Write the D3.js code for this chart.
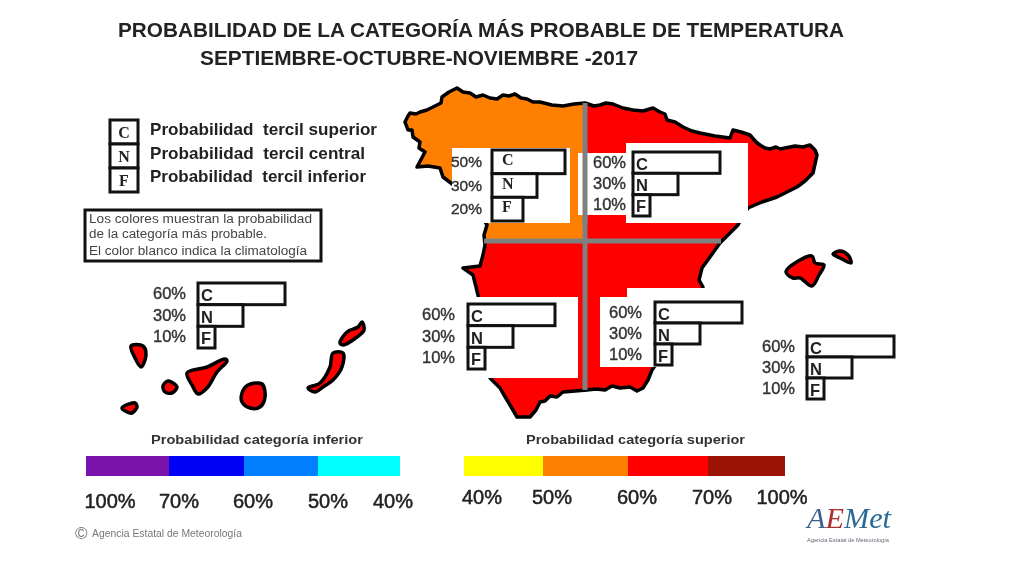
<!DOCTYPE html>
<html>
<head>
<meta charset="utf-8">
<script src="https://cdn.jsdelivr.net/npm/d3@7"></script>
<style>
    html, body { margin: 0; background: #fff; }
    svg { display: block; filter: blur(0.5px); }
    text { font-family: "Liberation Sans", Arial, sans-serif; fill: #222; white-space: pre; }
</style>
</head>
<body>
<svg id="chart" width="1024" height="576"></svg>
<script>
const terciles = ['C', 'N', 'F'];
const regionNames = ['Noroeste', 'Noreste', 'Suroeste', 'Sureste', 'Baleares', 'Canarias'];
const probC = [50, 60, 60, 60, 60, 60];
const probN = [30, 30, 30, 30, 30, 30];
const probF = [20, 10, 10, 10, 10, 10];

const upperTicks = [40, 50, 60, 70, 100];
const upperColors = ['#ffff00', '#ff8000', '#ff0000', '#9c1306'];
const lowerTicks = [100, 70, 60, 50, 40];
const lowerColors = ['#7a12ab', '#0000f5', '#0080ff', '#00ffff'];

// outlines, in page pixels
const peninsula = [[405,122],[408,116],[410,113],[416,114],[420,112],[427,110],[433,107],[441,103],[442,97],[449,92],[457,88],[463,92],[470,93],[476,97],[483,95],[490,98],[497,99],[503,95],[509,96],[515,94],[521,98],[527,99],[533,102],[540,102],[552,105],[563,106],[574,104],[585,103],[594,106],[600,105],[606,103],[613,104],[623,108],[633,110],[643,111],[653,108],[660,112],[665,114],[667,120],[675,122],[683,127],[692,131],[700,133],[715,136],[730,138],[733,130],[741,132],[750,135],[756,142],[760,145],[765,148],[770,149],[776,147],[780,149],[795,146],[803,147],[810,145],[815,150],[817,155],[815,164],[813,173],[805,181],[797,187],[787,192],[777,197],[762,202],[748,208],[743,216],[738,225],[729,234],[720,243],[710,257],[702,268],[699,280],[703,287],[690,310],[670,345],[652,370],[648,380],[643,388],[637,391],[630,387],[620,388],[612,386],[605,390],[596,389],[587,390],[575,391],[563,392],[557,397],[550,396],[545,401],[540,402],[536,410],[530,417],[517,417],[510,405],[504,395],[500,388],[490,378],[485,340],[478,295],[473,275],[463,268],[480,266],[483,255],[485,245],[484,235],[487,225],[475,205],[460,190],[443,177],[440,168],[428,166],[417,167],[425,152],[419,148],[420,142],[413,137],[412,130],[408,130]];
const islands = [
    [[786,272],[800,260],[812,256],[815,263],[824,265],[819,275],[812,286],[800,278],[793,278]],
    [[833,254],[840,251],[848,255],[851,263],[840,258]],
    [[122,408],[135,403],[137,407],[132,413],[127,412]],
    [[131,346],[143,346],[146,355],[141,367],[135,358]],
    [[163,386],[168,381],[177,387],[172,393],[165,392]],
    [[187,373],[207,367],[225,359],[227,361],[217,372],[207,388],[198,394],[192,385]],
    [[242,393],[248,385],[262,384],[265,397],[260,407],[250,408],[242,402]],
    [[308,388],[320,383],[330,367],[333,353],[343,353],[342,367],[333,380],[323,387],[315,392]],
    [[340,343],[347,332],[358,327],[362,322],[364,330],[357,337],[343,345]]
];

const svg = d3.select('#chart');
const colorScale = d3.scaleThreshold().domain(upperTicks.slice(1, 4)).range(upperColors);
const barWidth = d3.scaleLinear().domain([0, 60]).range([3, 87]);
const line = d3.line().curve(d3.curveLinearClosed);
const roundLine = d3.line().curve(d3.curveCatmullRomClosed);

// title
svg.append('text').attr('x', 118).attr('y', 37).attr('font-size', 20).attr('font-weight', 'bold')
    .attr('textLength', 726).attr('lengthAdjust', 'spacingAndGlyphs')
    .text('PROBABILIDAD DE LA CATEGORÍA MÁS PROBABLE DE TEMPERATURA');
svg.append('text').attr('x', 200).attr('y', 65).attr('font-size', 20).attr('font-weight', 'bold')
    .attr('textLength', 438).attr('lengthAdjust', 'spacingAndGlyphs')
    .text('SEPTIEMBRE-OCTUBRE-NOVIEMBRE -2017');

// map, coloured by the most probable category of each quadrant
const defs = svg.append('defs');
defs.append('clipPath').attr('id', 'nw').append('rect').attr('x', 380).attr('y', 70).attr('width', 205).attr('height', 170);
svg.append('path').attr('d', line(peninsula)).attr('fill', colorScale(probC[1]));
svg.append('path').attr('d', line(peninsula)).attr('fill', colorScale(probC[0])).attr('clip-path', 'url(#nw)');
svg.append('path').attr('d', line(peninsula)).attr('fill', 'none').attr('stroke', '#000').attr('stroke-width', 3.5).attr('stroke-linejoin', 'round');
svg.selectAll('path.island').data(islands).enter().append('path')
    .attr('class', 'island')
    .attr('d', roundLine)
    .attr('fill', colorScale(probC[5]))
    .attr('stroke', '#000').attr('stroke-width', 3.5).attr('stroke-linejoin', 'round');

svg.append('line').attr('x1', 585).attr('x2', 585).attr('y1', 103).attr('y2', 390).attr('stroke', '#808080').attr('stroke-width', 5);
svg.append('line').attr('x1', 484).attr('x2', 721).attr('y1', 241).attr('y2', 241).attr('stroke', '#808080').attr('stroke-width', 5);

// white patches behind the little bar charts
const patches = [
    [452, 148, 118, 75], [578, 153, 50, 62], [626, 143, 122, 80],
    [468, 297, 110, 81], [600, 297, 28, 70], [627, 288, 100, 79]
];
svg.selectAll('rect.patch').data(patches).enter().append('rect')
    .attr('class', 'patch')
    .attr('x', d => d[0]).attr('y', d => d[1]).attr('width', d => d[2]).attr('height', d => d[3])
    .attr('fill', '#fff');
svg.append('line').attr('x1', 585).attr('x2', 585).attr('y1', 150).attr('y2', 225).attr('stroke', '#808080').attr('stroke-width', 5);

// the six bar charts
const panelLayout = [
    { x: 492, y: 150, h: 71, labelX: 482, size: 15.5, serif: true },
    { x: 633, y: 152, h: 64, labelX: 626, size: 16.5 },
    { x: 468, y: 304, h: 65, labelX: 455, size: 16.5 },
    { x: 655, y: 302, h: 63, labelX: 642, size: 16.5 },
    { x: 807, y: 336, h: 63, labelX: 795, size: 16.5 },
    { x: 198, y: 283, h: 65, labelX: 186, size: 16.5 }
];

regionNames.forEach((name, i) => {
    const layout = panelLayout[i];
    const values = [probC[i], probN[i], probF[i]];
    const y = d3.scaleBand().domain(terciles).range([layout.y, layout.y + layout.h]);
    const g = svg.append('g').attr('class', 'panel').attr('data-region', name);
    g.selectAll('rect').data(terciles).enter().append('rect')
        .attr('x', layout.x)
        .attr('y', d => y(d))
        .attr('width', (d, j) => barWidth(values[j]))
        .attr('height', y.bandwidth())
        .attr('fill', '#fff').attr('stroke', '#111').attr('stroke-width', 3);
    g.selectAll('text.letter').data(terciles).enter().append('text')
        .attr('class', 'letter')
        .attr('x', layout.x + (layout.serif ? 10 : 3))
        .attr('y', d => y(d) + y.bandwidth() / 2 + (layout.serif ? 3 : 7))
        .attr('font-size', layout.serif ? 16 : 16.5)
        .attr('font-weight', 'bold')
        .style('font-family', layout.serif ? 'Liberation Serif' : null)
        .text(d => d);
    g.selectAll('text.pct').data(terciles).enter().append('text')
        .attr('class', 'pct')
        .attr('x', layout.labelX)
        .attr('y', d => y(d) + y.bandwidth() / 2 + 5)
        .attr('text-anchor', 'end')
        .attr('font-size', layout.size)
        .style('fill', '#333')
        .style('stroke', '#333').style('stroke-width', 0.4)
        .text((d, j) => values[j] + '%');
});

// key of the three terciles
const keyDescriptions = ['Probabilidad  tercil superior', 'Probabilidad  tercil central', 'Probabilidad  tercil inferior'];
const keyLengths = [227, 215, 216];
const keyY = d3.scaleBand().domain(terciles).range([120, 192]);
terciles.forEach((t, i) => {
    svg.append('rect').attr('x', 110).attr('y', keyY(t)).attr('width', 28).attr('height', keyY.bandwidth())
        .attr('fill', '#fff').attr('stroke', '#111').attr('stroke-width', 3);
    svg.append('text').attr('x', 124).attr('y', keyY(t) + 18).attr('text-anchor', 'middle')
        .attr('font-size', 16).attr('font-weight', 'bold').style('font-family', 'Liberation Serif').text(t);
    svg.append('text').attr('x', 150).attr('y', keyY(t) + 15 - i * 0.5).attr('font-size', 16.5).attr('font-weight', 'bold')
        .attr('textLength', keyLengths[i]).attr('lengthAdjust', 'spacingAndGlyphs').text(keyDescriptions[i]);
});

// note
svg.append('rect').attr('x', 85).attr('y', 210).attr('width', 236).attr('height', 51)
    .attr('fill', '#fff').attr('stroke', '#111').attr('stroke-width', 3);
const noteLines = ['Los colores muestran la probabilidad', 'de la categoría más probable.', 'El color blanco indica la climatología'];
const noteLengths = [223, 178, 218];
svg.selectAll('text.note').data(noteLines).enter().append('text')
    .attr('class', 'note')
    .attr('x', 89)
    .attr('y', (d, i) => [223, 238, 255][i])
    .attr('font-size', 12)
    .attr('textLength', (d, i) => noteLengths[i]).attr('lengthAdjust', 'spacingAndGlyphs')
    .style('fill', '#444')
    .text(d => d);

// colour ramps
function ramp(ticks, colors, range, title, titleX, titleLength, barY, labelY, labelRange) {
    const x = d3.scaleLinear().domain(ticks).range(range);
    const lx = d3.scaleLinear().domain(ticks).range(labelRange);
    svg.selectAll(null).data(colors).enter().append('rect')
        .attr('x', (d, i) => x(ticks[i]))
        .attr('y', barY)
        .attr('width', (d, i) => x(ticks[i + 1]) - x(ticks[i]))
        .attr('height', 20)
        .attr('fill', d => d);
    svg.selectAll(null).data(ticks).enter().append('text')
        .attr('x', d => lx(d))
        .attr('y', labelY)
        .attr('text-anchor', 'middle')
        .attr('font-size', 20)
        .style('stroke', '#222').style('stroke-width', 0.5)
        .text(d => d + '%');
    svg.append('text').attr('x', titleX).attr('y', 444).attr('font-size', 13).attr('font-weight', 'bold')
        .attr('textLength', titleLength).attr('lengthAdjust', 'spacingAndGlyphs')
        .style('fill', '#333').text(title);
}
ramp(lowerTicks, lowerColors, [86, 169, 244, 318, 400], 'Probabilidad categoría inferior', 151, 212, 456, 508, [110, 179, 253, 328, 393]);
ramp(upperTicks, upperColors, [464, 543, 628, 708, 785], 'Probabilidad categoría superior', 526, 219, 456, 504, [482, 552, 637, 712, 782]);

// credits
svg.append('text').attr('x', 75).attr('y', 539).attr('font-size', 17).style('fill', '#777').text('©');
svg.append('text').attr('x', 92).attr('y', 537).attr('font-size', 10).attr('textLength', 150)
    .attr('lengthAdjust', 'spacingAndGlyphs').style('fill', '#777').text('Agencia Estatal de Meteorología');
const logo = svg.append('text').attr('x', 807).attr('y', 528).attr('font-size', 29).attr('font-style', 'italic')
    .attr('textLength', 84).attr('lengthAdjust', 'spacingAndGlyphs')
    .style('font-family', 'Liberation Serif');
logo.append('tspan').style('fill', '#3d5f8c').text('A');
logo.append('tspan').style('fill', '#a83030').text('E');
logo.append('tspan').style('fill', '#2a6a96').text('Met');
svg.append('text').attr('x', 807).attr('y', 542).attr('font-size', 6).attr('textLength', 82)
    .attr('lengthAdjust', 'spacingAndGlyphs').style('fill', '#667').text('Agencia Estatal de Meteorología');
</script>
</body>
</html>
